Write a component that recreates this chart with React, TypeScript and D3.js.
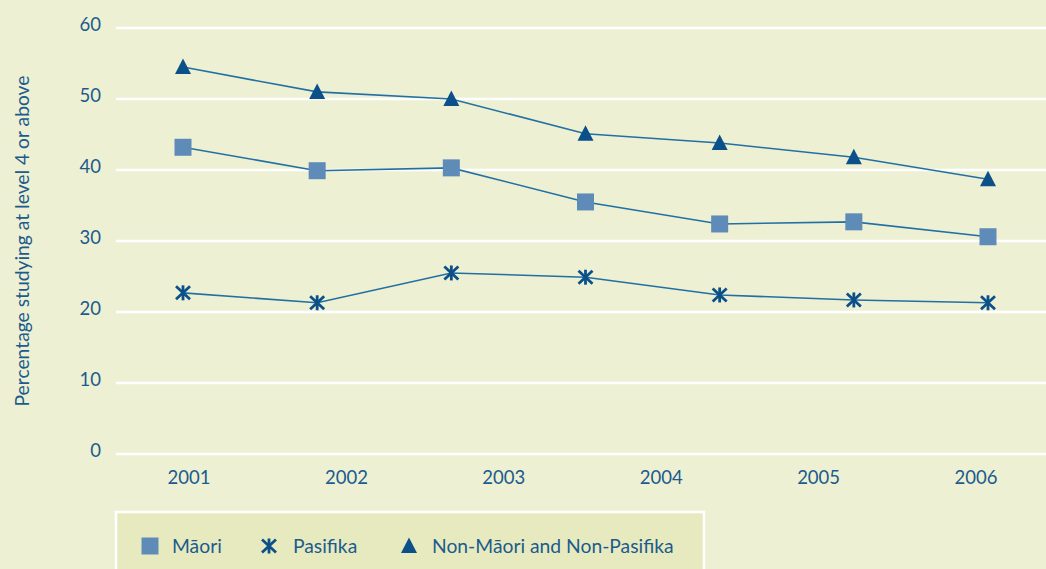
import React from 'react'
import * as d3 from 'd3'

// values (7 points per series, 6 year labels)
const years = ['2001', '2002', '2003', '2004', '2005', '2006']
const pointIndex = [0, 1, 2, 3, 4, 5, 6]
const maori = [43.2, 39.9, 40.3, 35.5, 32.4, 32.7, 30.6]
const pasifika = [22.7, 21.3, 25.5, 24.9, 22.4, 21.7, 21.3]
const nonMaoriNonPasifika = [54.5, 51.0, 50.0, 45.1, 43.8, 41.8, 38.7]
const yTicks = [0, 10, 20, 30, 40, 50, 60]
const legendLabels = ['Māori', 'Pasifika', 'Non-Māori and Non-Pasifika']

const width = 1046,
  height = 569
const bg = '#edf0d3'
const textColor = '#1b5b8d'
const lineColor = '#2270a3'
const darkBlue = '#0b5088'
const lightBlue = '#5f8bb8'
const font = "Lato, 'Noto Sans', sans-serif"

const Marker = ({ kind, x, y }: { kind: string; x: number; y: number }) => {
  if (kind === 'square') {
    return <rect x={x - 8.5} y={y - 8.5} width={17} height={17} fill={lightBlue} />
  }
  if (kind === 'triangle') {
    return (
      <path
        d={`M${x},${y - 8.5}L${x + 8},${y + 7}L${x - 8},${y + 7}Z`}
        fill={darkBlue}
      />
    )
  }
  // asterisk: vertical bar + an X
  return (
    <g stroke={darkBlue} strokeWidth={2.8} strokeLinecap='butt'>
      <line x1={x} y1={y - 7.5} x2={x} y2={y + 7.5} />
      <line x1={x - 7} y1={y - 6.5} x2={x + 7} y2={y + 6.5} />
      <line x1={x - 7} y1={y + 6.5} x2={x + 7} y2={y - 6.5} />
    </g>
  )
}

export default function App() {
  const y = d3.scaleLinear().domain([0, 60]).range([454, 28])
  const xPoint = d3.scalePoint<number>().domain(pointIndex).range([183, 988])
  const xLabel = d3.scalePoint<string>().domain(years).range([189, 976])

  const series = [
    { name: legendLabels[0], values: maori, kind: 'square' },
    { name: legendLabels[1], values: pasifika, kind: 'asterisk' },
    { name: legendLabels[2], values: nonMaoriNonPasifika, kind: 'triangle' }
  ]

  const line = d3
    .line<number>()
    .x((d, i) => xPoint(pointIndex[i]) as number)
    .y(d => y(d))

  const legendItems = [
    { kind: 'square', mx: 150, tx: 172 },
    { kind: 'asterisk', mx: 269, tx: 293 },
    { kind: 'triangle', mx: 409, tx: 432 }
  ]

  return (
    <svg
      width={width}
      height={height}
      style={{ position: 'absolute', left: 0, top: 0, display: 'block' }}
      fontFamily={font}>
      <rect width={width} height={height} fill={bg} />

      {yTicks.map(t => (
        <g key={t}>
          <line x1={116} x2={width} y1={y(t)} y2={y(t)} stroke='#fff' strokeWidth={2.5} />
          <text
            x={101}
            y={y(t) - 3}
            dy='.35em'
            textAnchor='end'
            fontSize={18.5}
            fill={textColor}>
            {t}
          </text>
        </g>
      ))}

      <text
        transform={`translate(22,241) rotate(-90)`}
        textAnchor='middle'
        dy='.35em'
        fontSize={19.3}
        fill={textColor}>
        Percentage studying at level 4 or above
      </text>

      {years.map(yr => (
        <text
          key={yr}
          x={xLabel(yr)}
          y={478}
          dy='.35em'
          textAnchor='middle'
          fontSize={18.5}
          fill={textColor}>
          {yr}
        </text>
      ))}

      {series.map(s => (
        <g key={s.name}>
          <path d={line(s.values) || ''} fill='none' stroke={lineColor} strokeWidth={1.6} />
          {s.values.map((v, i) => (
            <Marker key={i} kind={s.kind} x={xPoint(pointIndex[i]) as number} y={y(v)} />
          ))}
        </g>
      ))}

      <rect
        x={116}
        y={512}
        width={588}
        height={80}
        fill='#e7eabf'
        stroke='#fff'
        strokeWidth={2.5}
      />
      {legendItems.map((it, i) => (
        <g key={i}>
          <Marker kind={it.kind} x={it.mx} y={546} />
          <text x={it.tx} y={546} dy='.35em' fontSize={19.3} fill={textColor}>
            {legendLabels[i]}
          </text>
        </g>
      ))}
    </svg>
  )
}
